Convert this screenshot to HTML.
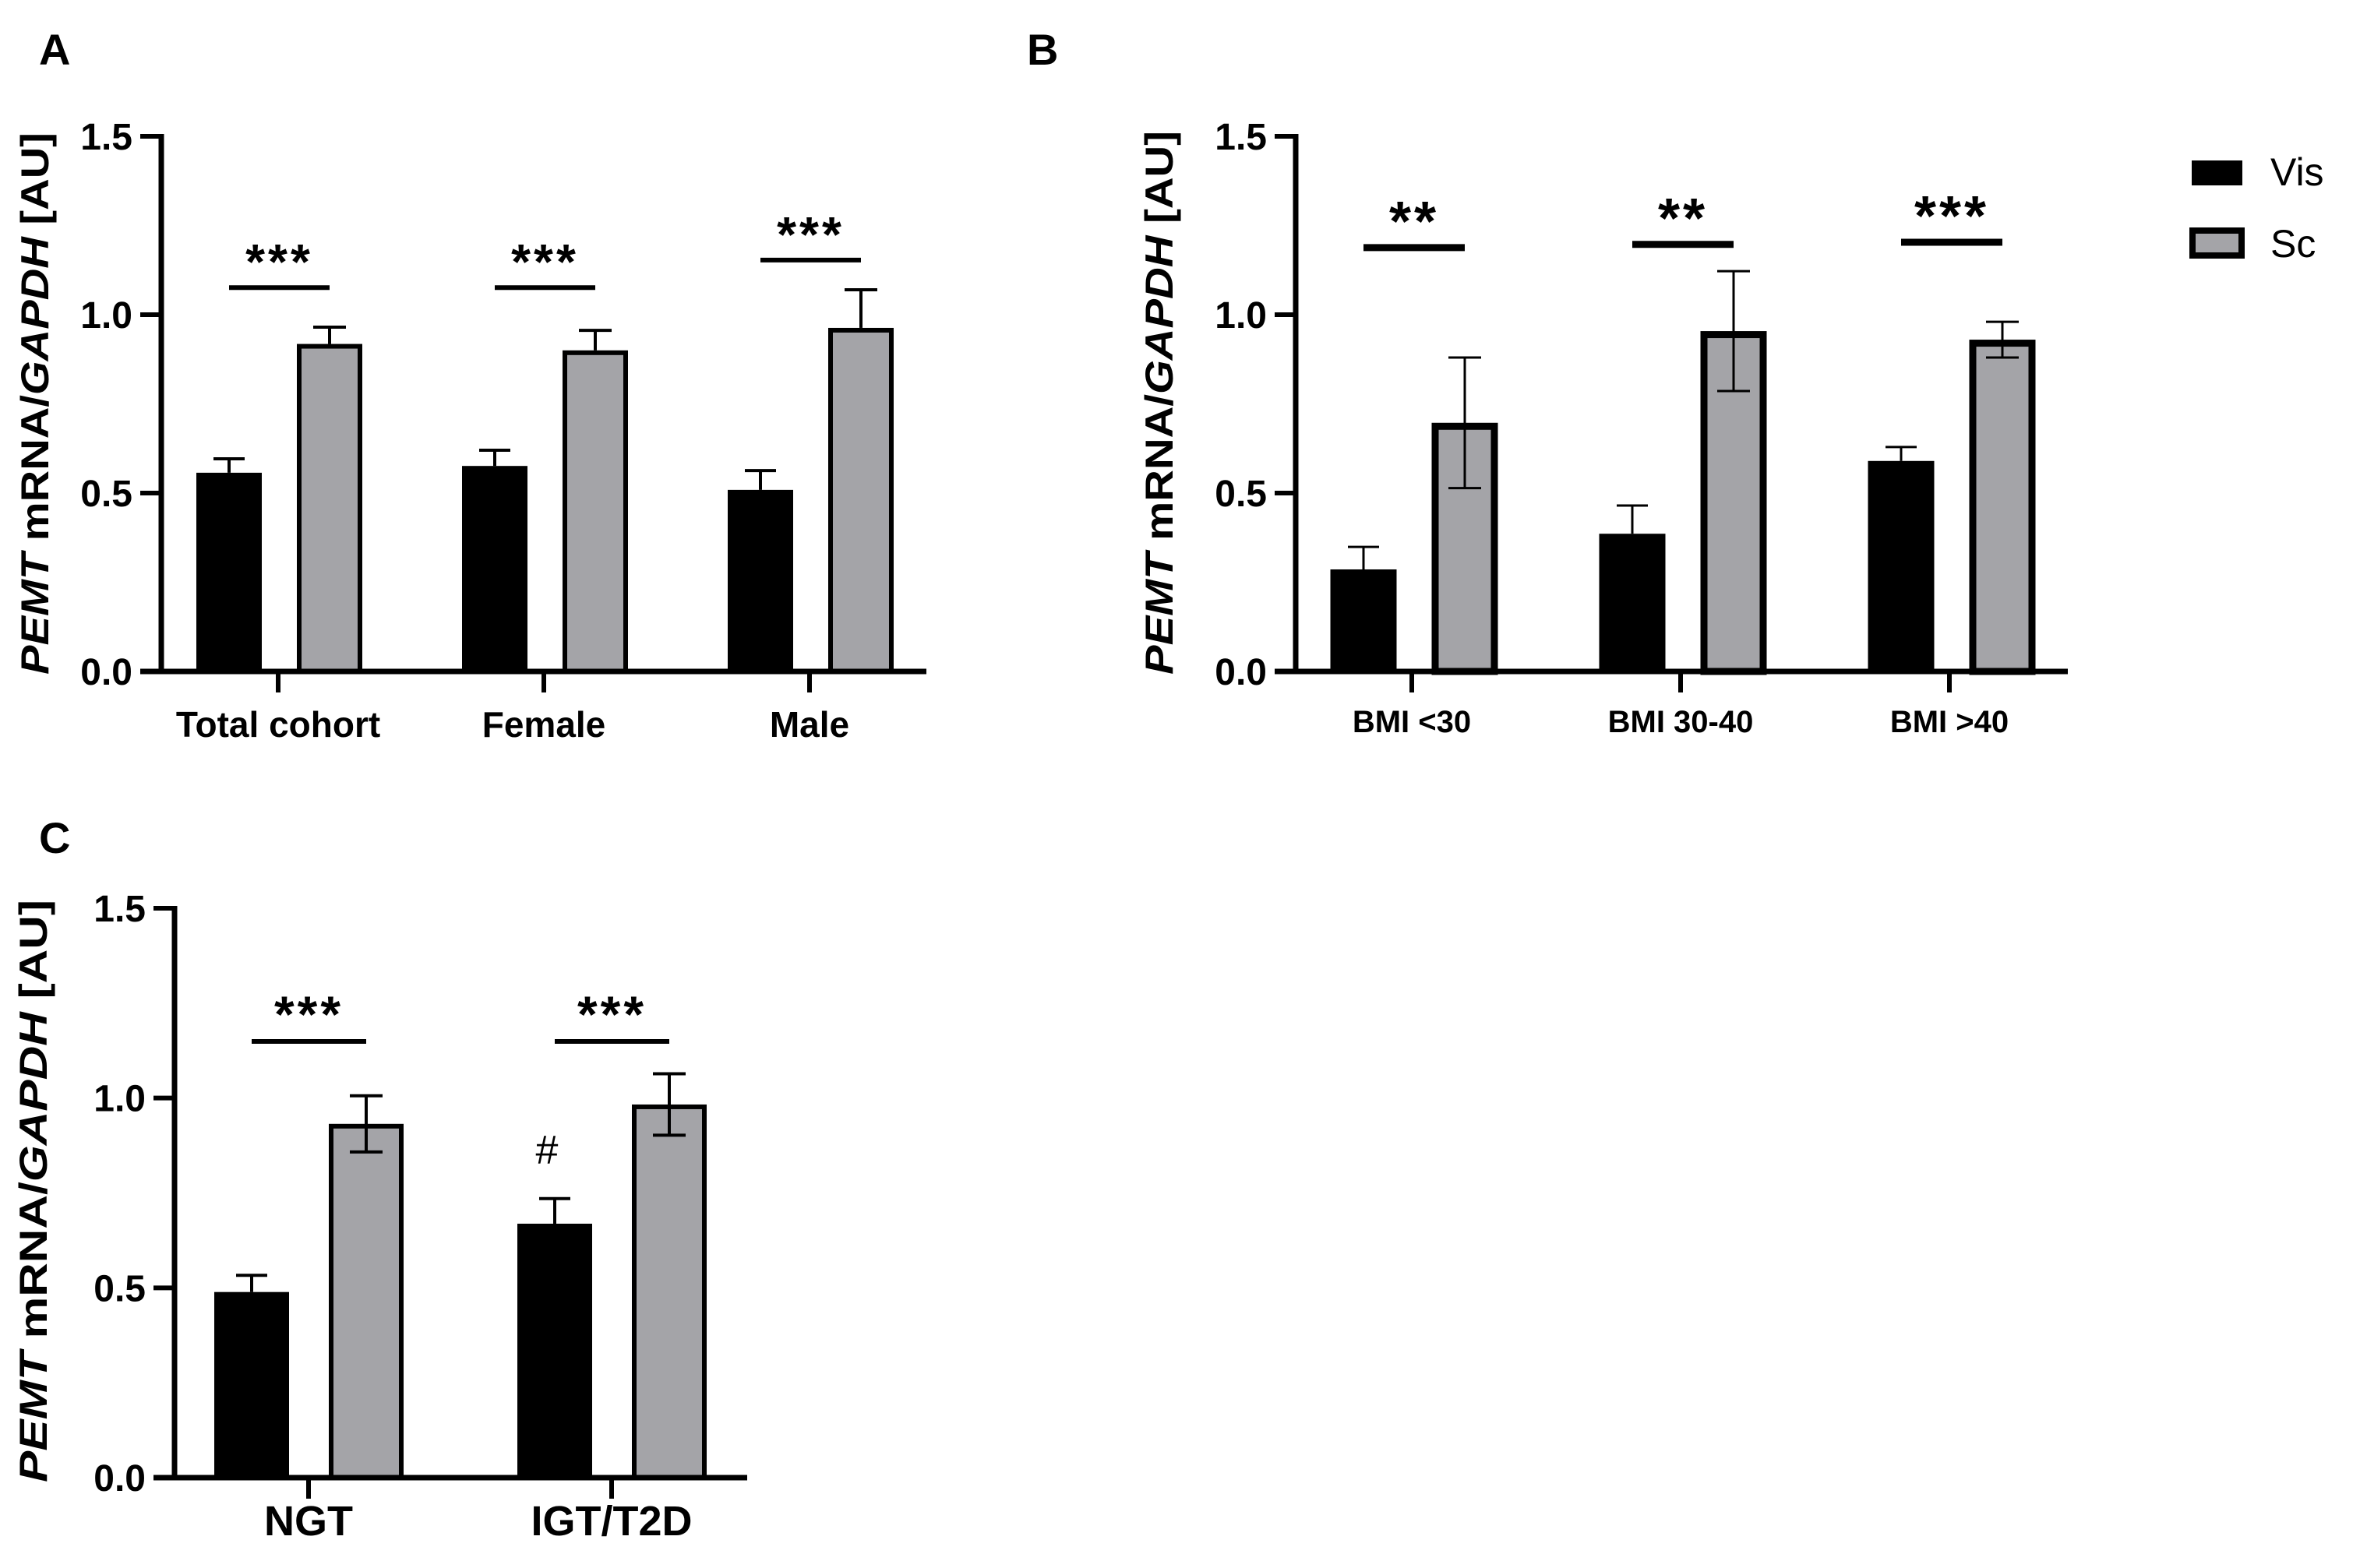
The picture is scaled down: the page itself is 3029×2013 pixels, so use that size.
<!DOCTYPE html>
<html><head><meta charset="utf-8"><style>
html,body{margin:0;padding:0;background:#fff;}
svg{display:block;font-family:"Liberation Sans",Arial,sans-serif;}
</style></head><body>
<svg id="fig" width="3029" height="2013" viewBox="0 0 3029 2013" xmlns="http://www.w3.org/2000/svg">
<rect width="3029" height="2013" fill="#fff"/>
<text x="50" y="83" font-size="56" font-weight="bold">A</text>
<text x="1318" y="83" font-size="56" font-weight="bold">B</text>
<text x="50" y="1095" font-size="56" font-weight="bold">C</text>
<g>
<rect x="2813" y="206" width="65" height="32" fill="#000"/>
<text x="2914" y="238" font-size="50">Vis</text>
<rect x="2814" y="296" width="63" height="32" fill="#a4a4a8" stroke="#000" stroke-width="8"/>
<text x="2914" y="330" font-size="50">Sc</text>
</g>
</svg>
<script>
const catsA = ["Total cohort","Female","Male"];
const visA = [0.557,0.576,0.509];
const visErrA = [0.039,0.044,0.054];
const scA = [0.918,0.900,0.963];
const scErrA = [0.047,0.056,0.107];
const sigA = ["***","***","***"];
const sigYA = [1.076,1.076,1.153];

const catsB = ["BMI <30","BMI 30-40","BMI >40"];
const visB = [0.286,0.386,0.590];
const visErrB = [0.063,0.079,0.039];
const scB = [0.697,0.954,0.930];
const scErrB = [0.183,0.168,0.050];
const sigB = ["**","**","***"];
const sigYB = [1.188,1.197,1.203];

const catsC = ["NGT","IGT/T2D"];
const visC = [0.489,0.669];
const visErrC = [0.044,0.066];
const scC = [0.932,0.983];
const scErrC = [0.074,0.081];
const sigC = ["***","***"];
const sigYC = [1.149,1.149];
const extraC = ["","#"];

const yTicks = [0,0.5,1.0,1.5];
const yTickLabels = ["0.0","0.5","1.0","1.5"];

const NS = "http://www.w3.org/2000/svg";
const svg = document.getElementById('fig');
function mk(tag, attrs, parent){
  const e = document.createElementNS(NS, tag);
  for (const k in attrs) e.setAttribute(k, attrs[k]);
  (parent||svg).appendChild(e);
  return e;
}
const GRAY = "#a4a4a8";

function panel(p, cats, vis, visErr, sc, scErr, sig, sigY, extra){
  const g = mk('g', {});
  
  
  const y = v => p.y0 - (v/1.5)*(p.y0 - p.yTop);
  const xc = i => p.first + i*p.spacing;
  cats.forEach((c,i)=>{
    const vx = xc(i)+p.visOff, sx = xc(i)+p.scOff;
    const w = p.barW;
    const ev = mk('line',{x1:vx,x2:vx,y1:y(vis[i]),y2:y(vis[i]+visErr[i]),stroke:'#000','stroke-width':p.errW},g);
    
    
    const evc = mk('line',{x1:vx-20,x2:vx+20,y1:y(vis[i]+visErr[i]),y2:y(vis[i]+visErr[i]),stroke:'#000','stroke-width':p.errW},g);
    
    
    const rv = mk('rect',{x:vx-w/2,y:y(vis[i]),width:w,height:p.y0-y(vis[i]),fill:'#000'},g);
    
    
    const b = p.border;
    const rs = mk('rect',{x:sx-w/2+b/2,y:y(sc[i])+b/2,width:w-b,height:p.y0-y(sc[i])-b/2,fill:GRAY,stroke:'#000','stroke-width':b},g);
    
    
    const lowY = p.scBoth ? y(sc[i]-scErr[i]) : y(sc[i]);
    const es = mk('line',{x1:sx,x2:sx,y1:lowY,y2:y(sc[i]+scErr[i]),stroke:'#000','stroke-width':p.errW},g);
    
    
    const esc = mk('line',{x1:sx-21,x2:sx+21,y1:y(sc[i]+scErr[i]),y2:y(sc[i]+scErr[i]),stroke:'#000','stroke-width':p.errW},g);
    
    
    if (p.scBoth){
      const esl = mk('line',{x1:sx-21,x2:sx+21,y1:lowY,y2:lowY,stroke:'#000','stroke-width':p.errW},g);
      
      
    }
    const sl = mk('line',{x1:vx,x2:sx,y1:y(sigY[i]),y2:y(sigY[i]),stroke:'#000','stroke-width':p.sigW},g);
    
    
    const st = mk('text',{x:(vx+sx)/2,y:y(sigY[i])-p.starGap,'font-size':p.starFont,'font-weight':'bold','text-anchor':'middle','letter-spacing':4},g);
    st.textContent = sig[i];
    
    
    if (extra && extra[i]){
      const ex = mk('text',{x:vx-10,y:y(vis[i]+visErr[i])-45,'font-size':52,'text-anchor':'middle'},g);
      ex.textContent = extra[i];
      
      
    }
    const t = mk('line',{x1:xc(i),x2:xc(i),y1:p.y0,y2:p.y0+27,stroke:'#000','stroke-width':6},g);
    
    
    const lab = mk('text',{x:xc(i),y:p.labelY,'font-size':p.labelFont,'font-weight':'bold','text-anchor':'middle'},g);
    lab.textContent = c;
    
    
  });
  const ya = mk('line',{x1:p.axisX,x2:p.axisX,y1:p.yTop-3,y2:p.y0+3,stroke:'#000','stroke-width':7},g);
  
  
  const xa = mk('line',{x1:p.axisX-27,x2:p.xEnd,y1:p.y0,y2:p.y0,stroke:'#000','stroke-width':7},g);
  
  
  yTicks.forEach((v,k)=>{
    const tl = mk('line',{x1:p.axisX-27,x2:p.axisX,y1:y(v),y2:y(v),stroke:'#000','stroke-width':6},g);
    
    
    const tt = mk('text',{x:p.axisX-37,y:y(v)+17,'font-size':48,'font-weight':'bold','text-anchor':'end'},g);
    tt.textContent = yTickLabels[k];
    
    
  });
  const cy = (p.titleTop+p.titleBot)/2;
  const yt = mk('text',{x:0,y:0,'font-size':50,'font-weight':'bold','text-anchor':'middle',transform:`translate(${p.titleX+18},${cy}) rotate(-90)`,textLength:p.titleBot-p.titleTop,lengthAdjust:'spacingAndGlyphs'},g);
  
  
  const t1 = mk('tspan',{'font-style':'italic'},yt); t1.textContent='PEMT';
  const t2 = mk('tspan',{},yt); t2.textContent=' mRNA/';
  const t3 = mk('tspan',{'font-style':'italic'},yt); t3.textContent='GAPDH';
  const t4 = mk('tspan',{},yt); t4.textContent=' [AU]';
}

panel({name:'panel-a',axisX:207,xEnd:1189,yTop:175,y0:862,first:357,spacing:341,visOff:-63,scOff:66,barW:84,border:6,errW:4,scBoth:false,sigW:6,starFont:64,starGap:11,labelY:946,labelFont:46,titleX:44,titleTop:170,titleBot:866},
  catsA, visA, visErrA, scA, scErrA, sigA, sigYA, null);
panel({name:'panel-b',axisX:1663,xEnd:2654,yTop:175,y0:862,first:1812,spacing:345,visOff:-62,scOff:68,barW:85,border:9,errW:3,scBoth:true,sigW:9,starFont:72,starGap:9,labelY:940,labelFont:40,titleX:1487,titleTop:168,titleBot:866},
  catsB, visB, visErrB, scB, scErrB, sigB, sigYB, null);
panel({name:'panel-c',axisX:224,xEnd:959,yTop:1166,y0:1897,first:396,spacing:389,visOff:-73,scOff:74,barW:96,border:6,errW:4,scBoth:true,sigW:6,starFont:66,starGap:12,labelY:1971,labelFont:54,titleX:42,titleTop:1155,titleBot:1903},
  catsC, visC, visErrC, scC, scErrC, sigC, sigYC, extraC);
</script>
</body></html>
